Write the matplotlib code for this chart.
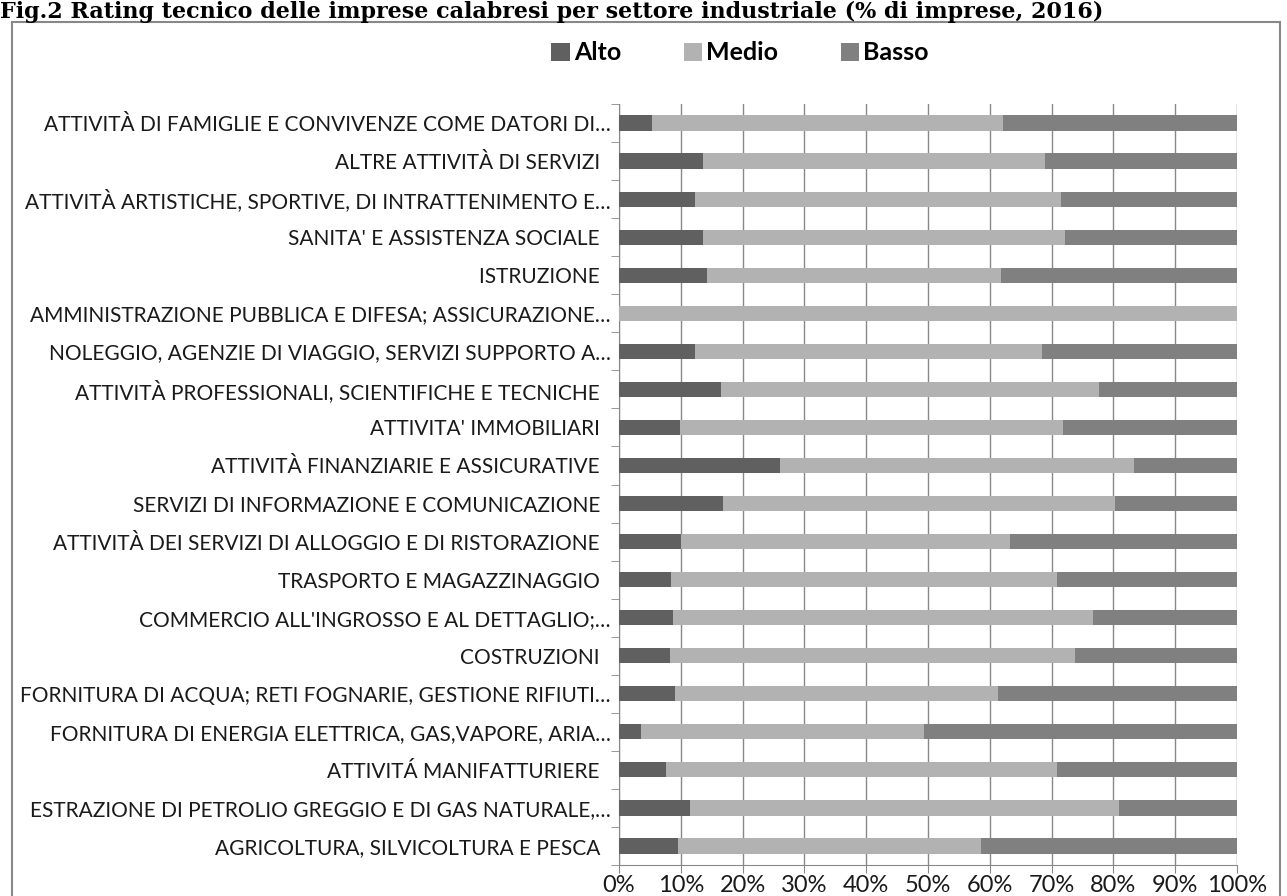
import matplotlib
matplotlib.use("Agg")
import matplotlib.pyplot as plt
import matplotlib.patches as mpatches
import numpy as np

# sectors, bottom to top as drawn
settori = [
    "AGRICOLTURA, SILVICOLTURA E PESCA",
    "ESTRAZIONE DI PETROLIO GREGGIO E DI GAS NATURALE,…",
    "ATTIVITÁ MANIFATTURIERE",
    "FORNITURA DI ENERGIA ELETTRICA, GAS,VAPORE, ARIA…",
    "FORNITURA DI ACQUA; RETI FOGNARIE, GESTIONE RIFIUTI…",
    "COSTRUZIONI",
    "COMMERCIO ALL'INGROSSO E AL DETTAGLIO;…",
    "TRASPORTO E MAGAZZINAGGIO",
    "ATTIVITÀ DEI SERVIZI DI ALLOGGIO E DI RISTORAZIONE",
    "SERVIZI DI INFORMAZIONE E COMUNICAZIONE",
    "ATTIVITÀ FINANZIARIE E ASSICURATIVE",
    "ATTIVITA' IMMOBILIARI",
    "ATTIVITÀ PROFESSIONALI, SCIENTIFICHE E TECNICHE",
    "NOLEGGIO, AGENZIE DI VIAGGIO, SERVIZI SUPPORTO A…",
    "AMMINISTRAZIONE PUBBLICA E DIFESA; ASSICURAZIONE…",
    "ISTRUZIONE",
    "SANITA' E ASSISTENZA SOCIALE",
    "ATTIVITÀ ARTISTICHE, SPORTIVE, DI INTRATTENIMENTO E…",
    "ALTRE ATTIVITÀ DI SERVIZI",
    "ATTIVITÀ DI FAMIGLIE E CONVIVENZE COME DATORI DI…",
]
alto = [9.5, 11.5, 7.6, 3.5, 9.1, 8.2, 8.8, 8.4, 10.0, 16.9,
        26.0, 9.8, 16.5, 12.3, 0.0, 14.2, 13.6, 12.3, 13.6, 5.3]
medio = [49.0, 69.4, 63.2, 45.8, 52.3, 65.6, 67.9, 62.4, 53.3, 63.4,
         57.4, 62.0, 61.2, 56.2, 100.0, 47.6, 58.6, 59.2, 55.3, 56.9]
basso = [41.5, 19.1, 29.2, 50.7, 38.6, 26.2, 23.3, 29.2, 36.7, 19.7,
         16.6, 28.2, 22.3, 31.5, 0.0, 38.2, 27.8, 28.5, 31.1, 37.8]
serie = ["Alto", "Medio", "Basso"]
colori = ["#606060", "#b2b2b2", "#808080"]
xticks = [0, 10, 20, 30, 40, 50, 60, 70, 80, 90, 100]

font = "Lato"

fig = plt.figure(figsize=(12.87, 8.96), dpi=100)
ax = fig.add_axes([619 / 1287, 1 - 865 / 896, 618 / 1287, 761 / 896])

y = np.arange(len(settori))
left = np.zeros(len(settori))
for vals, nome, col in zip([alto, medio, basso], serie, colori):
    ax.barh(y, vals, left=left, height=0.4, color=col, label=nome, zorder=3)
    left = left + np.array(vals)

ax.set_xlim(0, 100)
ax.set_ylim(-0.5, len(settori) - 0.5)
ax.set_xticks(xticks)
ax.set_xticklabels([f"{v}%" for v in xticks], fontsize=17, family=font, color="#1a1a1a")
# labels not cut with "…" sit a bit further from the axis, as in the source
ax.set_yticks(y)
ax.set_yticklabels([s if s.endswith("…") else s + "  " for s in settori],
                   fontsize=15, family=font, color="#1a1a1a")
ax.set_yticks(np.arange(len(settori) + 1) - 0.5, minor=True)
ax.tick_params(axis="y", which="major", length=0, pad=6)
ax.tick_params(axis="y", which="minor", length=6, color="#888888")
ax.tick_params(axis="x", length=6, color="#888888", pad=1)
ax.grid(axis="x", color="#888888", linewidth=1, zorder=0)
for s in ["top", "right"]:
    ax.spines[s].set_visible(False)
for s in ["left", "bottom"]:
    ax.spines[s].set_color("#888888")

# chart frame
fig.patches.append(mpatches.Rectangle((12 / 1287, -0.05), 1268 / 1287, 1.05 - 22 / 896,
                                      transform=fig.transFigure, fill=False,
                                      edgecolor="#888888", linewidth=1.5))

fig.legend(loc="center", bbox_to_anchor=(740 / 1287, 1 - 53 / 896), ncol=3,
           frameon=False, handlelength=0.75, handleheight=0.75, handletextpad=0.15,
           columnspacing=2.5, prop={"family": font, "weight": "bold", "size": 18})

fig.text(0.0, 1 - 1 / 896,
         "Fig.2 Rating tecnico delle imprese calabresi per settore industriale (% di imprese, 2016)",
         family="DejaVu Serif", weight="bold", fontsize=16, ha="left", va="top")

fig.savefig("out.png", dpi=100)
